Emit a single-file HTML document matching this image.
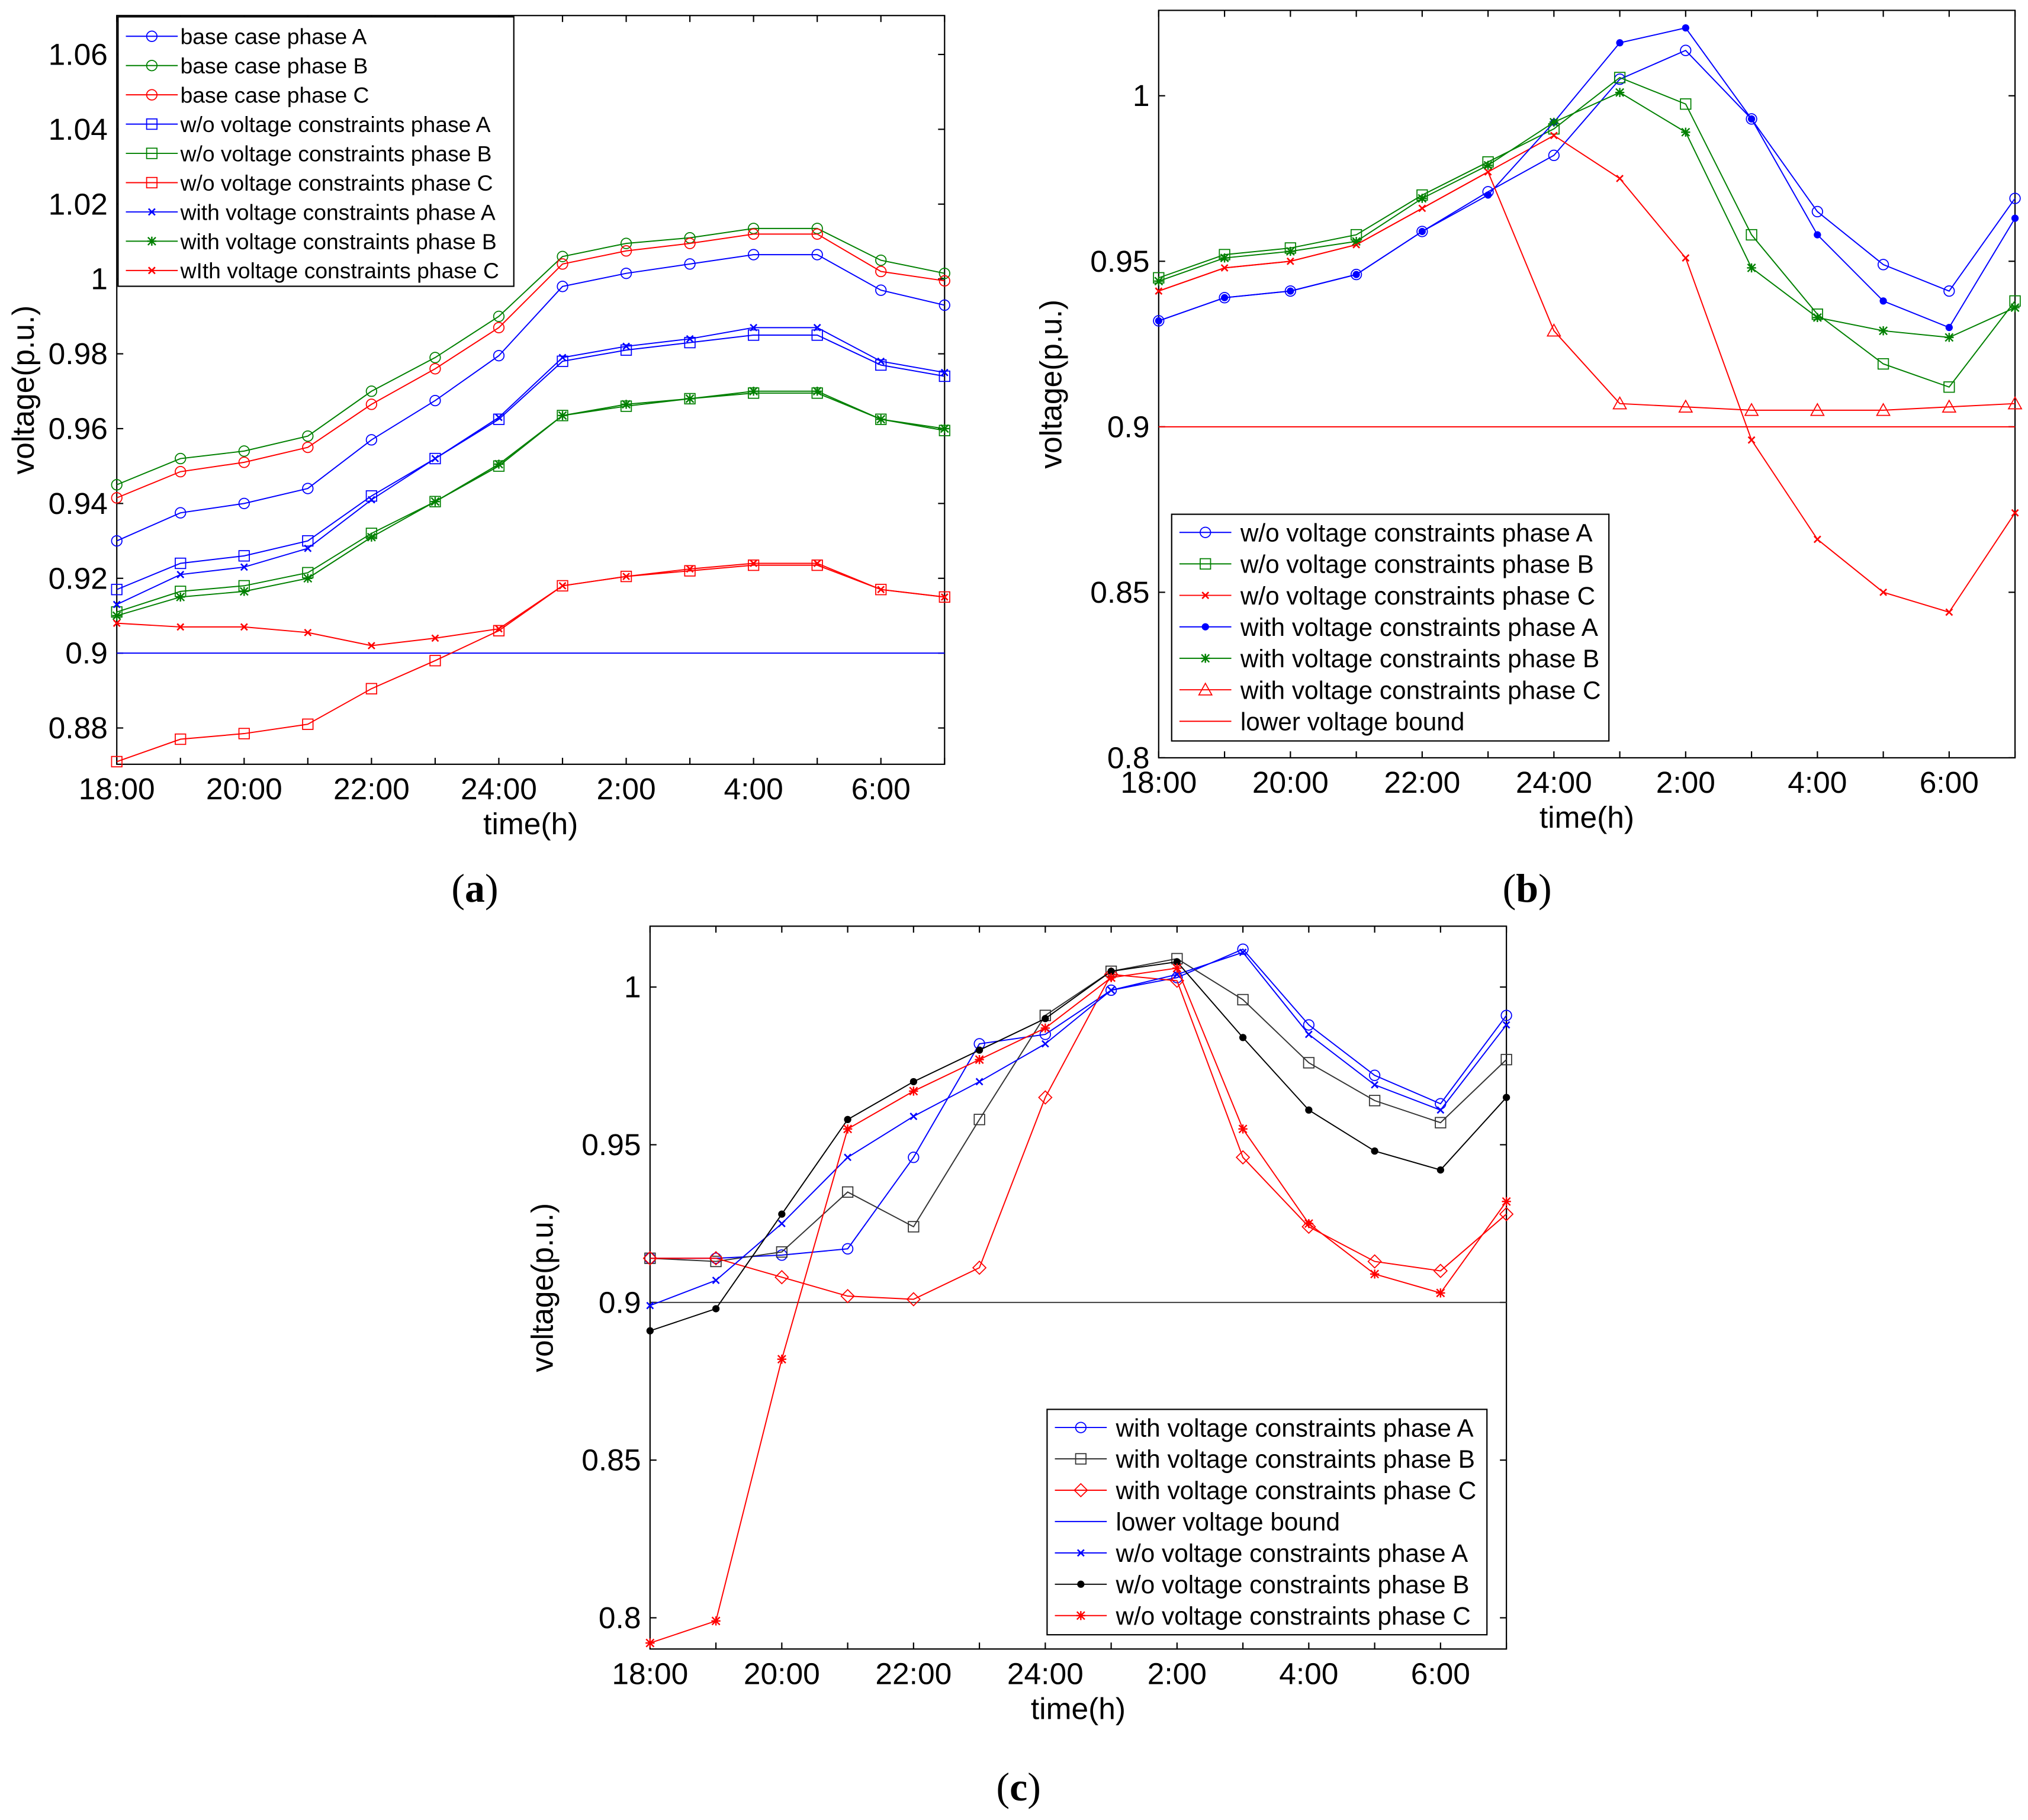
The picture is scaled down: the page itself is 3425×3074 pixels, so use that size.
<!DOCTYPE html>
<html><head><meta charset="utf-8"><style>
html,body{margin:0;padding:0;background:#fff}
svg{display:block}
text{font-family:"Liberation Sans",sans-serif;fill:#000}
</style></head><body>
<svg id="fig" width="3425" height="3074" viewBox="0 0 1563 1405" preserveAspectRatio="none" xmlns="http://www.w3.org/2000/svg">
<rect width="1563" height="1405" fill="#fff"/>
<text x="366" y="696" font-size="31" text-anchor="middle" style="font-family:'Liberation Serif',serif">(<tspan font-weight="bold">a</tspan>)</text>
<text x="1177" y="696" font-size="31" text-anchor="middle" style="font-family:'Liberation Serif',serif">(<tspan font-weight="bold">b</tspan>)</text>
<text x="785" y="1390" font-size="31" text-anchor="middle" style="font-family:'Liberation Serif',serif">(<tspan font-weight="bold">c</tspan>)</text>
</svg>
<script>
const hours=['18:00','19:00','20:00','21:00','22:00','23:00','24:00','1:00','2:00','3:00','4:00','5:00','6:00','7:00'];
const xTickLabels=['18:00','20:00','22:00','24:00','2:00','4:00','6:00'];
// Panel a
const aBaseA=[0.930,0.9375,0.940,0.944,0.957,0.9675,0.9795,0.998,1.0015,1.004,1.0065,1.0065,0.997,0.993];
const aBaseB=[0.945,0.952,0.954,0.958,0.970,0.979,0.990,1.006,1.0095,1.011,1.0135,1.0135,1.005,1.0015];
const aBaseC=[0.9415,0.9485,0.951,0.955,0.9665,0.976,0.987,1.004,1.0075,1.0095,1.012,1.012,1.002,0.9995];
const aWoA=[0.917,0.924,0.926,0.930,0.942,0.952,0.9625,0.978,0.981,0.983,0.985,0.985,0.977,0.974];
const aWoB=[0.911,0.9165,0.918,0.9215,0.932,0.9405,0.950,0.9635,0.966,0.968,0.9695,0.9695,0.9625,0.9595];
const aWoC=[0.871,0.877,0.8785,0.881,0.8905,0.898,0.906,0.918,0.9205,0.922,0.9235,0.9235,0.917,0.915];
const aWithA=[0.913,0.921,0.923,0.928,0.941,0.952,0.963,0.979,0.982,0.984,0.987,0.987,0.978,0.975];
const aWithB=[0.910,0.915,0.9165,0.920,0.931,0.9405,0.9505,0.9635,0.9665,0.968,0.970,0.970,0.9625,0.960];
const aWithC=[0.908,0.907,0.907,0.9055,0.902,0.904,0.9065,0.918,0.9205,0.9225,0.924,0.924,0.917,0.915];
const aYTicks=[0.88,0.9,0.92,0.94,0.96,0.98,1,1.02,1.04,1.06];
// Panel b
const bWoA=[0.932,0.939,0.941,0.946,0.959,0.971,0.982,1.005,1.0137,0.993,0.965,0.949,0.941,0.969];
const bWoB=[0.945,0.952,0.954,0.958,0.970,0.980,0.990,1.0055,0.9975,0.958,0.934,0.919,0.912,0.938];
const bWoC=[0.941,0.948,0.950,0.955,0.966,0.977,0.988,0.975,0.951,0.896,0.866,0.850,0.844,0.874];
const bWithA=[0.932,0.939,0.941,0.946,0.959,0.970,0.992,1.016,1.0205,0.993,0.958,0.938,0.930,0.963];
const bWithB=[0.944,0.951,0.953,0.956,0.969,0.979,0.992,1.001,0.989,0.948,0.933,0.929,0.927,0.936];
const bWithC=[0.941,0.948,0.950,0.955,0.966,0.977,0.929,0.907,0.906,0.905,0.905,0.905,0.906,0.907];
const bYTicks=[0.8,0.85,0.9,0.95,1];
// Panel c
const cWithA=[0.914,0.914,0.915,0.917,0.946,0.982,0.985,0.999,1.003,1.012,0.988,0.972,0.963,0.991];
const cWithB=[0.914,0.913,0.916,0.935,0.924,0.958,0.991,1.005,1.009,0.996,0.976,0.964,0.957,0.977];
const cWithC=[0.914,0.914,0.908,0.902,0.901,0.911,0.965,1.004,1.002,0.946,0.924,0.913,0.910,0.928];
const cWoA=[0.899,0.907,0.925,0.946,0.959,0.970,0.982,0.999,1.004,1.011,0.985,0.969,0.961,0.988];
const cWoB=[0.891,0.898,0.928,0.958,0.970,0.980,0.990,1.005,1.008,0.984,0.961,0.948,0.942,0.965];
const cWoC=[0.792,0.799,0.882,0.955,0.967,0.977,0.987,1.003,1.006,0.955,0.925,0.909,0.903,0.932];
const cYTicks=[0.8,0.85,0.9,0.95,1];
const bound=0.9;

const NS='http://www.w3.org/2000/svg';
const svg=document.getElementById('fig');
function mk(tag,attrs,parent){const e=document.createElementNS(NS,tag);for(const k in attrs)e.setAttribute(k,attrs[k]);(parent||svg).appendChild(e);return e;}
const BLUE='#0000ff',GREEN='#008000',RED='#ff0000',BLACK='#000';

function marker(g,type,x,y,c){
  if(type==='o'){mk('circle',{cx:x,cy:y,r:4,fill:'none',stroke:c,'stroke-width':0.8},g);}
  else if(type==='s'){mk('rect',{x:x-4,y:y-4,width:8,height:8,fill:'none',stroke:c,'stroke-width':0.8},g);}
  else if(type==='d'){mk('path',{d:`M${x} ${y-5}L${x+5} ${y}L${x} ${y+5}L${x-5} ${y}Z`,fill:'none',stroke:c,'stroke-width':0.8},g);}
  else if(type==='^'){mk('path',{d:`M${x} ${y-5}L${x+5} ${y+4}L${x-5} ${y+4}Z`,fill:'none',stroke:c,'stroke-width':0.8},g);}
  else if(type==='.'){mk('circle',{cx:x,cy:y,r:2.8,fill:c},g);}
  else if(type==='x'){mk('path',{d:`M${x-2.5} ${y-2.5}L${x+2.5} ${y+2.5}M${x+2.5} ${y-2.5}L${x-2.5} ${y+2.5}`,stroke:c,'stroke-width':1.2},g);}
  else if(type==='*'){mk('path',{d:`M${x-3} ${y-3}L${x+3} ${y+3}M${x+3} ${y-3}L${x-3} ${y+3}M${x-3.5} ${y}L${x+3.5} ${y}M${x} ${y-3.5}L${x} ${y+3.5}`,stroke:c,'stroke-width':1.1},g);}
}

function panel(p){
  const g=mk('g',{});
  
  
  const X=i=>p.x0+(p.x1-p.x0)*i/(hours.length-1);
  const Y=v=>p.py1-(v-p.ymin)/(p.ymax-p.ymin)*(p.py1-p.py0);
  const box=mk('rect',{x:p.x0,y:p.py0,width:p.x1-p.x0,height:p.py1-p.py0,fill:'none',stroke:'#000','stroke-width':1},g);
  
  
  for(let i=0;i<hours.length;i++){
    const x=X(i);
    mk('line',{x1:x,y1:p.py1,x2:x,y2:p.py1-5,stroke:'#000'},g);
    mk('line',{x1:x,y1:p.py0,x2:x,y2:p.py0+5,stroke:'#000'},g);
  }
  xTickLabels.forEach((l,k)=>{
    const t=mk('text',{x:X(k*2),y:p.py1+27,'font-size':23.5,'text-anchor':'middle'},g);
    t.textContent=l;
    
    
  });
  p.yticks.forEach(v=>{
    const y=Y(v);
    mk('line',{x1:p.x0,y1:y,x2:p.x0+5,y2:y,stroke:'#000'},g);
    mk('line',{x1:p.x1,y1:y,x2:p.x1-5,y2:y,stroke:'#000'},g);
    const t=mk('text',{x:p.x0-7,y:y+8,'font-size':23.5,'text-anchor':'end'},g);
    t.textContent=String(v);
    
    
  });
  const xt=mk('text',{x:(p.x0+p.x1)/2,y:p.py1+54,'font-size':23.5,'text-anchor':'middle'},g);
  xt.textContent='time(h)';
  
  
  const yc=(p.py0+p.py1)/2;
  const yt=mk('text',{x:p.yTitleX,y:yc,'font-size':23.5,'text-anchor':'middle',transform:`rotate(-90 ${p.yTitleX} ${yc})`},g);
  yt.textContent='voltage(p.u.)';
  
  
  const bl=mk('line',{x1:p.x0,y1:Y(bound),x2:p.x1,y2:Y(bound),stroke:p.boundColor,'stroke-width':0.9},g);
  
  
  p.series.forEach(s=>{
    const sg=mk('g',{},g);
    
    
    const pts=s.data.map((v,i)=>X(i)+','+Y(v)).join(' ');
    mk('polyline',{points:pts,fill:'none',stroke:s.c,'stroke-width':0.9},sg);
    s.data.forEach((v,i)=>{ if(!s.from||i>=s.from) marker(sg,s.m,X(i),Y(v),s.c); });
  });
  const L=p.legend;
  const lg=mk('g',{},g);
  
  
  mk('rect',{x:L.x,y:L.y,width:L.w,height:L.h,fill:'#fff',stroke:'#000','stroke-width':1},lg);
  L.items.forEach((it,k)=>{
    const ey=L.y+L.first+k*L.step;
    const eg=mk('g',{},lg);
    
    
    mk('line',{x1:L.x+6,y1:ey,x2:L.x+46,y2:ey,stroke:it.c,'stroke-width':0.9},eg);
    if(it.m) marker(eg,it.m,L.x+26,ey,it.c);
    const t=mk('text',{x:L.x+L.tx,y:ey+L.fs*0.36,'font-size':L.fs},eg);
    t.textContent=it.t;
  });
}

panel({name:'chart-a',x0:90,x1:728,py0:12,py1:590,ymin:0.8703,ymax:1.0704,yticks:aYTicks,yTitleX:26,boundColor:BLUE,
 series:[
  {id:'a-base-A',data:aBaseA,c:BLUE,m:'o'},{id:'a-base-B',data:aBaseB,c:GREEN,m:'o'},{id:'a-base-C',data:aBaseC,c:RED,m:'o'},
  {id:'a-wo-A',data:aWoA,c:BLUE,m:'s'},{id:'a-wo-B',data:aWoB,c:GREEN,m:'s'},{id:'a-wo-C',data:aWoC,c:RED,m:'s'},
  {id:'a-with-A',data:aWithA,c:BLUE,m:'x'},{id:'a-with-B',data:aWithB,c:GREEN,m:'*'},{id:'a-with-C',data:aWithC,c:RED,m:'x'}],
 legend:{x:91,y:13,w:305,h:208,first:15,step:22.6,fs:17,tx:48,items:[
  {t:'base case phase A',c:BLUE,m:'o'},{t:'base case phase B',c:GREEN,m:'o'},{t:'base case phase C',c:RED,m:'o'},
  {t:'w/o voltage constraints phase A',c:BLUE,m:'s'},{t:'w/o voltage constraints phase B',c:GREEN,m:'s'},{t:'w/o voltage constraints phase C',c:RED,m:'s'},
  {t:'with voltage constraints phase A',c:BLUE,m:'x'},{t:'with voltage constraints phase B',c:GREEN,m:'*'},{t:'wIth voltage constraints phase C',c:RED,m:'x'}]}});

panel({name:'chart-b',x0:893,x1:1553,py0:8,py1:585,ymin:0.8,ymax:1.0258,yticks:bYTicks,yTitleX:818,boundColor:RED,
 series:[
  {id:'b-wo-A',data:bWoA,c:BLUE,m:'o'},{id:'b-wo-B',data:bWoB,c:GREEN,m:'s'},{id:'b-wo-C',data:bWoC,c:RED,m:'x'},
  {id:'b-with-A',data:bWithA,c:BLUE,m:'.'},{id:'b-with-B',data:bWithB,c:GREEN,m:'*'},{id:'b-with-C',data:bWithC,c:RED,m:'^',from:6}],
 legend:{x:903,y:397,w:337,h:175,first:14,step:24.3,fs:19.3,tx:53,items:[
  {t:'w/o voltage constraints phase A',c:BLUE,m:'o'},{t:'w/o voltage constraints phase B',c:GREEN,m:'s'},{t:'w/o voltage constraints phase C',c:RED,m:'x'},
  {t:'with voltage constraints phase A',c:BLUE,m:'.'},{t:'with voltage constraints phase B',c:GREEN,m:'*'},{t:'with voltage constraints phase C',c:RED,m:'^'},
  {t:'lower voltage bound',c:RED}]}});

panel({name:'chart-c',x0:501,x1:1161,py0:715,py1:1273,ymin:0.7901,ymax:1.0193,yticks:cYTicks,yTitleX:426,boundColor:'#333',
 series:[
  {id:'c-with-A',data:cWithA,c:BLUE,m:'o'},{id:'c-with-B',data:cWithB,c:'#333',m:'s'},{id:'c-with-C',data:cWithC,c:RED,m:'d'},
  {id:'c-wo-A',data:cWoA,c:BLUE,m:'x'},{id:'c-wo-B',data:cWoB,c:BLACK,m:'.'},{id:'c-wo-C',data:cWoC,c:RED,m:'*'}],
 legend:{x:807,y:1088,w:339,h:174,first:14,step:24.2,fs:19.3,tx:53,items:[
  {t:'with voltage constraints phase A',c:BLUE,m:'o'},{t:'with voltage constraints phase B',c:'#333',m:'s'},{t:'with voltage constraints phase C',c:RED,m:'d'},
  {t:'lower voltage bound',c:BLUE},{t:'w/o voltage constraints phase A',c:BLUE,m:'x'},{t:'w/o voltage constraints phase B',c:BLACK,m:'.'},
  {t:'w/o voltage constraints phase C',c:RED,m:'*'}]}});
</script>
</body></html>
